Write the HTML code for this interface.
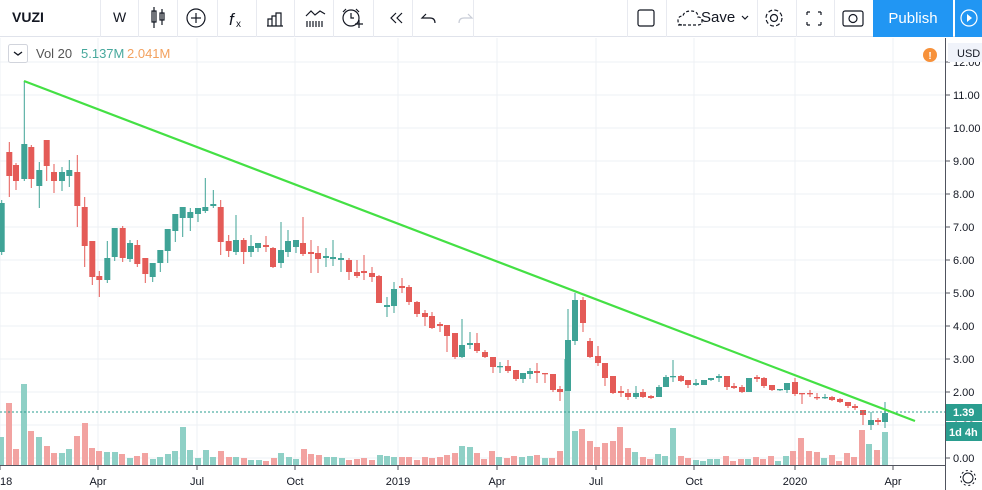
<!DOCTYPE html>
<html><head><meta charset="utf-8"><style>
*{margin:0;padding:0;box-sizing:border-box}
body{width:982px;height:490px;overflow:hidden;background:#fff;font-family:"Liberation Sans","DejaVu Sans",sans-serif;position:relative}
#tb{position:absolute;left:0;top:0;width:982px;height:37px;border-bottom:1px solid #e0e3eb;background:#fff}
.dv{position:absolute;top:0;width:1px;height:37px;background:#e8eaf0}
.t{position:absolute;font-size:15px;color:#131722}
</style></head><body>
<div id="tb">
<div class="t" style="left:12px;top:9px;font-weight:bold;font-size:14px">VUZI</div>
<div class="dv" style="left:100px"></div>
<div class="t" style="left:113px;top:9px;font-size:14px">W</div>
<div class="dv" style="left:138px"></div><div class="dv" style="left:177px"></div><div class="dv" style="left:217px"></div>
<div class="dv" style="left:256px"></div><div class="dv" style="left:294px"></div><div class="dv" style="left:333px"></div>
<div class="dv" style="left:373px"></div><div class="dv" style="left:412px"></div><div class="dv" style="left:473px"></div>
<div class="dv" style="left:627px"></div><div class="dv" style="left:666px"></div><div class="dv" style="left:757px"></div>
<div class="dv" style="left:796px"></div><div class="dv" style="left:834px"></div>
<div class="t" style="left:701px;top:9px;font-size:15px">Save</div>
<div style="position:absolute;left:873px;top:0;width:80px;height:37px;background:#2196f3;color:#fff;font-size:15px;text-align:center;line-height:37px">Publish</div>
<div style="position:absolute;left:955px;top:0;width:27px;height:37px;background:#2196f3"></div>
<svg width="982" height="37" style="position:absolute;left:0;top:0" fill="none" stroke="#131722" stroke-width="1.2">
<rect x="152" y="11" width="4" height="11"/><line x1="154" y1="7" x2="154" y2="28"/><rect x="160" y="13" width="4" height="7"/><line x1="162" y1="9" x2="162" y2="25"/>
<circle cx="196" cy="18" r="9"/><line x1="196" y1="13" x2="196" y2="23"/><line x1="191" y1="18" x2="201" y2="18"/>
<text x="229" y="25" font-size="17" fill="#131722" stroke="none" font-style="italic">f</text><text x="236" y="27" font-size="10" fill="#131722" stroke="none">x</text>
<path d="M267 26h16M268 26v-7h4v7M272 26v-10h4v10M276 26v-13h5v13"/>
<path d="M306 16l5-5 4 4 5-4 5 3M307 27v-6M310 27v-6M313 27v-6M316 27v-6M319 27v-6M322 27v-6"/>
<circle cx="351" cy="18" r="8"/><path d="M351 13v5h3M346 9l-3 3M356 9l3 3M355 24h8M359 20v8"/>
<path d="M396 13l-5 5 5 5M402 13l-5 5 5 5"/>
<path d="M426 14l-4 4 4 0M422 18h8q5 0 5 5"/>
<path d="M468 14l4 4-4 0M472 18h-8q-5 0-5 5" stroke="#c8ccd6"/>
<rect x="638" y="10" width="16" height="16" rx="2"/>
<path d="M678 25h20q4 0 4-4t-4-4q0-6-7-6t-8 5q-5 0-5 4.5t4 4.5" stroke-dasharray="3 2"/>
<path d="M742 16l3 3 3-3"/>
<circle cx="774" cy="18" r="3.5"/><circle cx="774" cy="18" r="8" stroke-dasharray="4 2.3"/>
<path d="M807 12h3M807 12v3M821 12h-3M821 12v3M807 25h3M807 25v-3M821 25h-3M821 25v-3"/>
<rect x="843" y="11" width="20" height="15" rx="2"/><circle cx="853" cy="18.5" r="4"/>
<circle cx="969" cy="18" r="8" stroke="#fff"/><path d="M967 14l5 4-5 4z" fill="#fff" stroke="none"/>
</svg>
</div>
<svg id="ch" width="982" height="453" style="position:absolute;left:0;top:37px" viewBox="0 37 982 453"></svg>
<script>
const T='#3fa396',R='#e45b57',TV='#8fd0c6',RV='#f2a3a1';
let s='';
// grid
for(let p=0;p<=12;p++){const y=458-33*p;s+=`<line x1="0" y1="${y}" x2="945" y2="${y}" stroke="#eef0f4"/>`;}
const vx=[0,98,197,295,398,497,596,694,795,893];
vx.forEach(x=>s+=`<line x1="${x}" y1="38" x2="${x}" y2="465" stroke="#eef0f4"/>`);
// volume
const V=[[1,437,1],[9,403,0],[16,449,0],[24,384,1],[31,431,0],[39,437,1],[47,446,0],[54,453,0],[62,453,1],[69,449,1],[77,436,0],[85,423,0],[92,448,0],[99,451,0],[107,452,1],[115,452,1],[122,454,0],[130,458,1],[137,456,0],[145,453,0],[153,459,1],[160,457,1],[168,454,1],[175,451,1],[183,427,1],[190,450,1],[198,458,1],[206,450,1],[213,457,1],[221,451,0],[229,457,0],[236,457,1],[244,458,0],[251,460,1],[259,460,1],[266,461,0],[274,458,0],[281,453,1],[289,457,1],[296,459,1],[304,449,0],[311,454,0],[319,455,0],[327,457,1],[334,457,1],[342,458,1],[349,460,0],[357,459,0],[364,458,0],[372,460,0],[380,455,1],[387,456,1],[394,457,1],[402,457,0],[409,457,0],[417,460,0],[425,457,0],[432,458,0],[440,457,0],[447,455,0],[455,453,0],[462,446,1],[470,447,1],[477,453,0],[484,459,0],[492,451,0],[499,457,1],[507,458,0],[514,456,0],[522,457,1],[530,456,1],[537,455,0],[545,458,1],[552,458,0],[560,451,0],[567,359,1],[575,431,1],[582,429,0],[590,441,0],[597,447,0],[605,443,0],[613,441,0],[620,427,0],[628,448,0],[635,452,1],[643,457,0],[650,459,0],[658,454,1],[665,456,1],[673,428,1],[681,456,0],[688,458,0],[696,460,1],[703,461,1],[710,459,1],[717,459,1],[726,456,0],[733,461,0],[741,459,0],[748,459,1],[756,457,0],[763,459,0],[771,456,0],[778,461,1],[786,456,1],[793,451,0],[801,438,0],[809,451,0],[817,452,0],[824,458,1],[832,455,0],[839,461,0],[847,453,0],[854,457,0],[862,430,0],[869,444,1],[877,450,0],[885,432,1]];
V.forEach(v=>s+=`<rect x="${v[0]-3}" y="${v[1]}" width="6" height="${465-v[1]}" fill="${v[2]?TV:RV}"/>`);
// candles [x,up,top,bot,hi,lo]
const C=[[1.7,1,203,252,200,255],[9.3,0,152,176,142,197],[16,0,165,181,163,190],[24.3,1,144,179,81,181],[31.3,0,147,179,145,188],[39.3,1,170,186,162,208],[46.7,0,140,166,140,181],[54,0,172,181,164,193],[62,1,172,181,167,191],[69.3,1,170,176,160,187],[77.3,0,172,206,155,227],[84.7,0,207,246,197,267],[92.3,0,241,277,241,285],[99.3,0,276,280,271,297],[107.3,1,258,280,241,283],[114.7,1,228,257,228,261],[122.7,0,228,258,226,262],[130,1,243,259,240,262],[137.3,0,245,264,240,267],[145.3,0,258,274,258,283],[152.7,1,263,277,263,282],[160.3,1,250,263,250,272],[167.7,1,229,251,229,263],[175.3,1,214,231,214,242],[182.7,1,207,218,207,237],[190.3,1,212,218,208,231],[198,1,208,214,208,222],[205.3,1,207,211,178,213],[213.3,1,204,206,190,208],[220.7,0,207,242,200,255],[228.7,0,241,251,235,257],[236,1,240,252,215,255],[243.7,0,240,252,238,264],
[251,1,246,252,235,257],[258,1,243,248,243,252],[266,0,245,247,236,252],[273,0,248,267,247,268],[281,1,250,263,222,268],[288,1,241,252,230,257],[296,1,240,247,240,253],[303,0,243,254,217,256],[311,0,252,254,240,273],[318,0,253,259,246,273],[326,1,256,258,248,267],[333,1,257,259,240,266],[341,1,258,260,253,272],[349,0,260,272,258,280],[357,0,272,276,260,278],[364,0,271,273,255,280],[372,0,273,277,267,282],[379,0,276,303,275,303],[387,1,305,307,297,317],[394,1,289,306,282,313],[402,0,286,288,278,293],[409,0,287,302,285,305],[417,0,302,314,301,317],[425,0,313,317,310,326],[432,0,316,328,312,329],[440,0,324,326,322,332],[447,0,325,336,325,352],[455,0,333,357,333,359],[462,1,345,357,319,358],[470,1,343,345,332,349],[477,0,343,351,333,353],[485,0,352,357,350,358],[493,0,357,367,357,373],[500,1,366,367,362,373],[508,0,366,371,360,373],[516,0,370,379,370,381],
[523,1,373,379,373,383],[530,1,371,374,368,379],[537,0,371,373,363,383],[545,0,373,374,373,383],[553,0,374,390,374,392],[560,0,389,392,386,401],[568,1,340,391,309,391],[575,1,300,341,293,345],[583,0,300,323,297,332],[590,0,341,357,338,358],[598,0,356,363,346,366],[605,0,363,378,363,386],[613,0,376,393,376,394],[621,0,391,393,386,397],[628,0,393,397,389,400],[636,1,393,397,386,399],[643,0,392,397,389,398],[651,0,396,398,395,399],[659,1,387,397,385,397],[666,1,377,387,375,387],[673,1,376,377,360,382],[681,0,376,381,375,382],[688,0,380,385,380,388],[696,1,383,385,379,386],[704,1,380,385,380,385],[711,1,378,380,378,381],[719,1,376,378,374,382],[727,0,376,387,376,390],[734,0,386,388,383,389],[742,0,387,392,385,393],[749,1,378,392,378,392],[757,0,377,379,375,382],[764,0,378,386,377,388],[772,0,385,390,385,391],[780,1,389,390,389,391],[787,1,383,390,383,393],[795,0,382,394,378,396],
[802,0,393,394,393,404],[810,0,393,394,390,397],[817,0,397,398,393,400],[825,1,397,398,394,399],[832,0,397,400,396,401],[840,0,399,402,398,403],[848,0,402,406,402,408],[855,0,406,408,404,410],[863,0,410,415,410,425],[871,1,420,425,412,430],[878,0,420,422,418,425],[885,1,413,422,402,428]];
C.forEach(c=>{const col=c[1]?T:R;const h=Math.max(1.3,c[3]-c[2]);
s+=`<line x1="${c[0]}" y1="${c[4]}" x2="${c[0]}" y2="${c[5]}" stroke="${col}" stroke-width="1"/>`;
s+=`<rect x="${c[0]-3}" y="${c[2]}" width="6" height="${h}" fill="${col}"/>`;});
// dotted price line
s+=`<line x1="0" y1="412" x2="945" y2="412" stroke="#2a9d8f" stroke-dasharray="2 2"/>`;
// trend line
s+=`<line x1="24" y1="81" x2="915" y2="421" stroke="#44e044" stroke-width="2.2"/>`;
// axes
s+=`<rect x="946" y="38" width="36" height="452" fill="#fff"/><rect x="0" y="466" width="946" height="24" fill="#fff"/>`;
s+=`<line x1="945.5" y1="38" x2="945.5" y2="490" stroke="#50535e"/><line x1="0" y1="465.5" x2="946" y2="465.5" stroke="#50535e"/>`;
for(let p=0;p<=12;p++){const y=458-33*p;s+=`<line x1="946" y1="${y}" x2="950" y2="${y}" stroke="#50535e"/><text x="953" y="${y+4}" font-size="11" fill="#131722">${p.toFixed(2).padStart(5,' ')}</text>`;}
const lb=[[0,"18"],[98,"Apr"],[197,"Jul"],[295,"Oct"],[398,"2019"],[497,"Apr"],[596,"Jul"],[694,"Oct"],[795,"2020"],[893,"Apr"]];
lb.forEach(l=>{s+=`<line x1="${l[0]}" y1="466" x2="${l[0]}" y2="470" stroke="#50535e"/><text x="${l[0]}" y="485" font-size="11" fill="#131722" text-anchor="${l[0]?'middle':'start'}">${l[1]}</text>`;});
s+=`<rect x="946" y="404" width="36" height="17" fill="#2a9d8f"/><text x="953" y="416" font-size="11" fill="#fff" font-weight="bold">1.39</text>`;
s+=`<rect x="946" y="422" width="36" height="19" fill="#2a9d8f"/><text x="949" y="436" font-size="11" fill="#fff" font-weight="bold">1d 4h</text>`;
s+=`<rect x="948" y="43" width="34" height="19" fill="#f0f3fa"/><text x="957" y="57" font-size="11" fill="#131722">USD</text>`;
s+=`<circle cx="930" cy="55" r="7" fill="#f7913a"/><text x="930" y="59" font-size="10" fill="#fff" text-anchor="middle" font-weight="bold">!</text>`;
s+=`<circle cx="968" cy="478" r="5" fill="none" stroke="#131722"/><circle cx="968" cy="478" r="7.5" fill="none" stroke="#131722" stroke-dasharray="2 2.7"/>`;
// legend
s+=`<rect x="8.5" y="44.5" width="19" height="18" rx="2" fill="#fff" stroke="#d1d4dc"/><path d="M14 52l4 3 4-3" fill="none" stroke="#131722" stroke-width="1.3"/>`;
s+=`<text x="36" y="58" font-size="13" fill="#555">Vol 20</text><text x="81" y="58" font-size="13" fill="#47a89c">5.137M</text><text x="127" y="58" font-size="13" fill="#f3a15e">2.041M</text>`;
document.getElementById('ch').innerHTML=s;
</script>
</body></html>
